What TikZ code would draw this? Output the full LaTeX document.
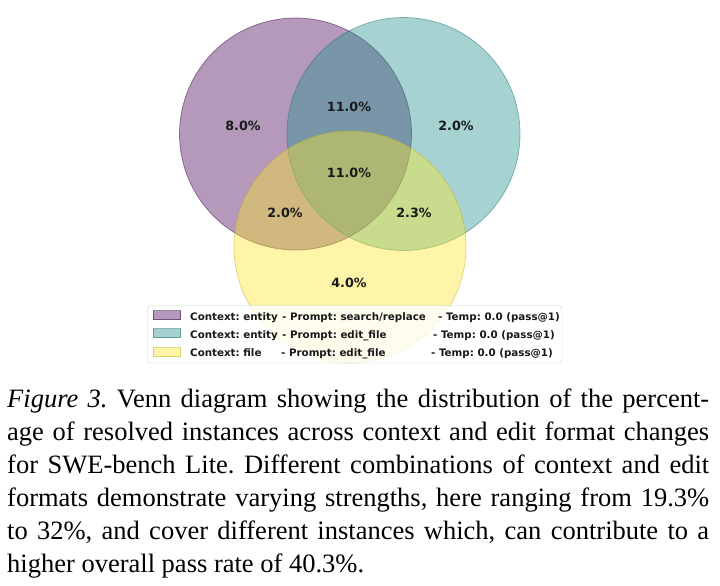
\documentclass[tikz,border=0pt]{standalone}
\usepackage{fontspec}
\setmainfont{Liberation Serif}
\newfontfamily\vennfont{DejaVu Sans}
\usetikzlibrary{positioning}
\definecolor{setpurple}{HTML}{440154}
\definecolor{setteal}{HTML}{21918C}
\definecolor{setyellow}{HTML}{FDE725}
\frenchspacing

\begin{document}
\begin{tikzpicture}[x=1pt, y=-1pt,
  setfill/.style={fill=#1, fill opacity=0.4, draw=#1!75!black, draw opacity=0.5, line width=0.7pt},
  pct/.style={font=\vennfont\bfseries\fontsize{12.7}{15}\selectfont, text=black!90, inner sep=0pt},
  legtext/.style={font=\vennfont\bfseries\fontsize{10.3}{12}\selectfont, text=black!90, anchor=base west, inner sep=0pt},
  capline/.style={font=\fontsize{26.5}{33}\selectfont, anchor=base west, inner sep=0pt}]
  \useasboundingbox (0,0) rectangle (720,586);

  % the three sets
  \draw[setfill=setpurple] (295.5,134) circle (116);
  \draw[setfill=setteal]   (403.5,134) circle (116.5);
  \draw[setfill=setyellow] (350,247)   circle (116);

  % region shares
  \foreach \name/\px/\py/\txt in {onlyA/243/126/8.0\%, AB/349/107/11.0\%, onlyB/456/126/2.0\%,
      ABC/349/173/11.0\%, AC/285/213/2.0\%, BC/414/213/2.3\%, onlyC/349/283/4.0\%}
    \node[pct] (\name) at (\px,\py) {\txt};

  % legend
  \draw[rounded corners=3pt, draw=black!20, fill=white, fill opacity=0.8] (147.5,305.5) rectangle (562,363);
  \foreach \c/\row/\by in {setpurple/1/319.5, setteal/2/337.7, setyellow/3/356.5}
    \draw[setfill=\c] (153,\by-9) rectangle (180.5,\by);
  \node[legtext] (ctx1) at (190,320) {Context: entity};
  \node[legtext] (pr1)  at (282,320) {- Prompt: search/replace};
  \node[legtext] (tp1)  at (438,320) {- Temp: 0.0 (pass@1)};
  \node[legtext] (ctx2) at (190,338) {Context: entity};
  \node[legtext] (pr2)  at (282,338) {- Prompt: edit\_file};
  \node[legtext] (tp2)  at (433,338) {- Temp: 0.0 (pass@1)};
  \node[legtext] (ctx3) at (190,356.5) {Context: file};
  \node[legtext] (pr3)  at (281,356.5) {- Prompt: edit\_file};
  \node[legtext] (tp3)  at (431,356.5) {- Temp: 0.0 (pass@1)};

  % caption
  \node[capline] (cap1) at (7,407) {\makebox[702pt][s]{\textit{Figure 3.} Venn diagram showing the distribution of the percent-}};
  \node[capline] (cap2) at (7,440) {\makebox[702pt][s]{age of resolved instances across context and edit format changes}};
  \node[capline] (cap3) at (7,473) {\makebox[702pt][s]{for SWE-bench Lite. Different combinations of context and edit}};
  \node[capline] (cap4) at (7,506) {\makebox[702pt][s]{formats demonstrate varying strengths, here ranging from 19.3\%}};
  \node[capline] (cap5) at (7,539) {\makebox[702pt][s]{to 32\%, and cover different instances which, can contribute to a}};
  \node[capline] (cap6) at (7,572) {higher overall pass rate of 40.3\%.};
\end{tikzpicture}
\end{document}
